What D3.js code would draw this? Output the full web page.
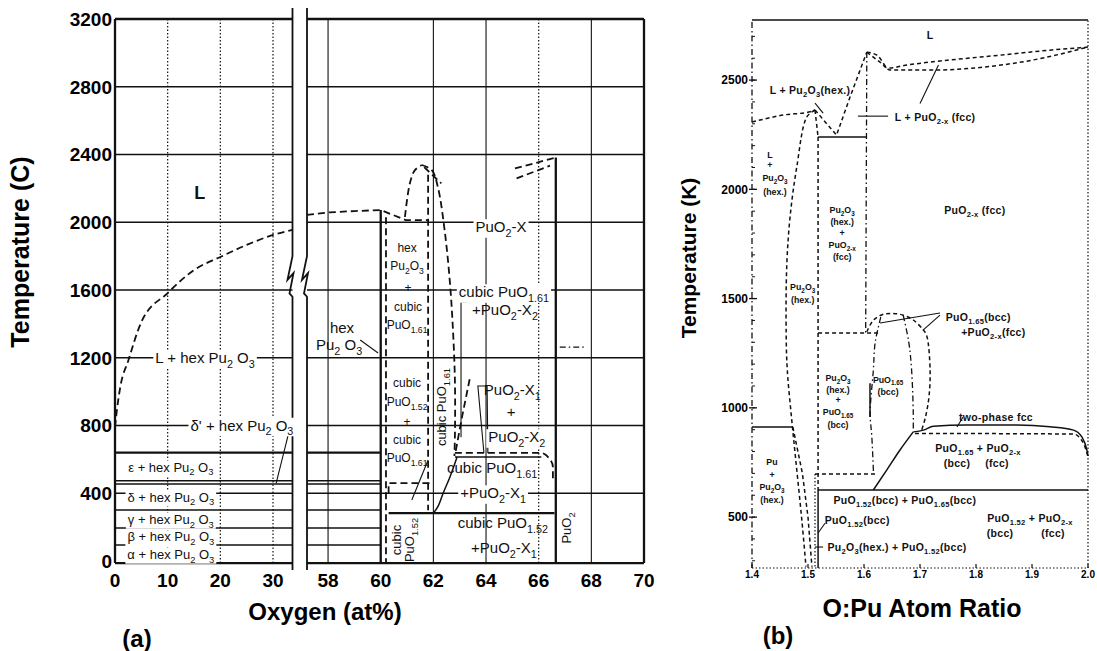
<!DOCTYPE html>
<html>
<head>
<meta charset="utf-8">
<script src="https://cdn.jsdelivr.net/npm/d3@7"></script>
<style>
  body { margin: 0; background: #fff; }
  svg { display: block; }
</style>
</head>
<body>
<div id="chart"></div>
<script>
// ---------- panel (a): temperature (C) vs oxygen (at%) ----------
const tempTicksA = [0, 400, 800, 1200, 1600, 2000, 2400, 2800, 3200];
const oxyTicksA = [0, 10, 20, 30, 58, 60, 62, 64, 66, 68, 70];
const gridSolidA = [58, 62, 64, 68];
const gridDottedA = [10, 20, 30, 66];
const puLinesA = [640, 474, 455, 301, 195, 95];

const liquidusLeftA = [[0,790],[0.4,900],[1,1027],[2.5,1181],[5,1411],[10,1582],[15,1718],[20,1795],[25,1866],[30,1925],[33.7,1955]];
const liquidusRightA = [[57.2,2043],[58,2058],[59,2066],[60,2072],[60.95,2013],[61.8,2013]];
const domeLeftA = [[60.92,2031],[61.11,2232],[61.3,2308],[61.56,2338]];
const domeRightA = [[61.56,2338],[61.94,2308],[62.17,2208],[62.44,1937],[62.63,1641],[62.75,1346],[62.82,1051],[62.82,756],[62.8,620]];
const domeTickA = [[61.65,2325],[62.3,2230]];
const hexEdgeA = [[60,2072],[60,-12]];
const hexEdge2A = [[60.2,2030],[60.2,-12]];
const pu161EdgeA = [[61.8,2280],[61.8,300]];
const line460A = [[60.3,400],[60.3,460],[61.95,460]];
const line283A = [[60.3,283],[66.6,283]];
const pu161LowA = [[62.0,283],[62.2,330],[62.37,400],[62.63,496],[62.9,614]];
const pu161MidA = [[62.85,650],[63.1,860],[63.4,1090]];
const bracketA = [[63.25,1530],[63.05,1530],[63.05,730]];
const gapA = [[63.92,638],[63.69,1033],[64.04,1033],[64.07,638]];
const line638A = [[62.82,638],[66.13,638],[66.35,614],[66.54,555],[66.54,478]];
const line614A = [[62.82,614],[66.1,614]];
const puo2A = [[66.65,2383],[66.65,-12]];
const puo2MeltA = [[[65.1,2318],[66.68,2383]], [[65.16,2259],[66.43,2334]]];
const markA = [[66.8,1263],[67.8,1263]];
const leadersA = [[[33.2,785],[30.6,460]], [[59.22,1305],[59.9,1228]], [[61.8,596],[61.18,360]]];

const labelsA = [
  {text: "hex", x: 58.53, T: 1376},
  {text: "Pu_{2} O_{3}", x: 58.42, T: 1275},
  {text: "+PuO_{2}-X_{2}", x: 64.72, T: 1482},
  {text: "PuO_{2}-X_{1}", x: 65.0, T: 1010},
  {text: "+", x: 64.95, T: 880},
  {text: "cubic  PuO_{1.61}", x: 64.23, T: 549},
  {text: "cubic  PuO_{1.52}", x: 64.64, T: 224},
  {text: "+PuO_{2}-X_{1}", x: 64.68, T: 77}
];
const labelsOnLineA = [
  {text: "L + hex  Pu_{2} O_{3}", x: 17.1, T: 1200},
  {text: "δ' + hex Pu_{2} O_{3}", x: 24.1, T: 800},
  {text: "PuO_{2}-X", x: 64.57, T: 1972},
  {text: "cubic  PuO_{1.61}", x: 64.68, T: 1588},
  {text: "PuO_{2}-X_{2}", x: 65.17, T: 732},
  {text: "+PuO_{2}-X_{1}", x: 64.27, T: 401}
];
const labelsStripA = [
  {text: "ε + hex  Pu_{2} O_{3}", x: 10.6, T: 555},
  {text: "δ + hex  Pu_{2} O_{3}", x: 10.6, T: 378},
  {text: "γ + hex  Pu_{2} O_{3}", x: 10.6, T: 246},
  {text: "β + hex  Pu_{2} O_{3}", x: 10.6, T: 143},
  {text: "α + hex  Pu_{2} O_{3}", x: 10.6, T: 40}
];
const labelsNarrowA = [
  {text: "hex", x: 61.0, T: 1848}, {text: "Pu_{2}O_{3}", x: 61.0, T: 1742},
  {text: "+", x: 61.04, T: 1612}, {text: "cubic", x: 61.04, T: 1500},
  {text: "PuO_{1.61}", x: 61.0, T: 1393},
  {text: "cubic", x: 61.0, T: 1051}, {text: "PuO_{1.52}", x: 61.0, T: 939},
  {text: "+", x: 61.0, T: 821}, {text: "cubic", x: 61.0, T: 714},
  {text: "PuO_{1.61}", x: 61.0, T: 608}
];
const labelsRotA = [
  {text: "cubic  PuO_{1.61}", x: 62.3, T: 909},
  {text: "cubic", x: 60.6, T: 124},
  {text: "PuO_{1.52}", x: 61.1, T: 124},
  {text: "PuO_{2}", x: 67.07, T: 195}
];
const bigLabelA = [{text: "L", x: 16.1, T: 2173}];

// ---------- panel (b): temperature (K) vs O:Pu ratio ----------
const tempTicksB = [500, 1000, 1500, 2000, 2500];
const tempMinorB = d3.range(300, 2800, 100);
const ratioTicksB = [1.4, 1.5, 1.6, 1.7, 1.8, 1.9, 2.0];

const liqLeftB = [[1.4,2308],[1.456,2340],[1.504,2355],[1.5125,2363]];
const liqVB = [[1.5125,2363],[1.551,2248],[1.575,2422],[1.605,2628]];
const solPu2o3B = [[1.5125,2363],[1.518,2239]];
const liqUpperB = [[1.605,2628],[1.6286,2582],[1.6429,2555],[1.6768,2569],[1.7536,2592],[1.8429,2614],[1.9321,2637],[2.0,2651]];
const liqLowerB = [[1.605,2628],[1.6232,2614],[1.6464,2546],[1.7232,2546],[1.8125,2559],[1.9018,2592],[2.0,2651]];
const pu2o3LeftB = [[1.5125,2363],[1.498,2332],[1.48,2103],[1.468,1874],[1.462,1646],[1.461,1342],[1.463,1173],[1.471,944],[1.48,715],[1.489,486],[1.4964,273]];
const pu2o3Left2B = [[1.473,912],[1.49,700],[1.5,500],[1.507,273]];
const edge1518DashB = [[1.518,2239],[1.518,624]];
const edge1518SolidB = [[1.518,624],[1.518,267]];
const edge1512B = [[1.5125,697],[1.5125,267]];
const line2239B = [[1.518,2239],[1.605,2239]];
const edge1603B = [[1.605,2628],[1.603,1342]];
const line1342B = [[1.518,1342],[1.63,1342]];
const line697B = [[1.5125,697],[1.62,697]];
const line912B = [[1.4,912],[1.473,912]];
const line624B = [[1.518,624],[2.0,624]];
const domeB = [[1.605,1348],[1.617,1402],[1.6345,1428],[1.652,1432],[1.67,1424],[1.688,1402],[1.706,1356],[1.712,1330],[1.718,1173],[1.716,1050],[1.71,960],[1.703,898]];
const domeLeftLegB = [[1.63,1415],[1.62,1300],[1.6167,1173],[1.611,975],[1.614,867],[1.617,700]];
const domeMidLegB = [[1.67,1424],[1.68,1300],[1.685,1173],[1.688,975],[1.688,898]];
const markB = [[1.6107,1113],[1.6107,958]];
const riseB = [[1.6167,624],[1.6405,715],[1.6643,807],[1.688,890]];
const fccTopB = [[1.688,890],[1.706,898],[1.724,916],[1.783,921],[1.873,921],[1.932,913],[1.974,898],[1.989,867],[1.998,807],[2.0,780]];
const fccLowB = [[1.691,883],[1.974,880],[1.992,837],[2.0,776]];
const leadersB = [
  [[1.7357,1434],[1.6286,1388]], [[1.7357,1424],[1.7054,1356]],
  [[1.766,912],[1.777,958]], [[1.5304,472],[1.518,427]],
  [[1.5125,363],[1.527,363]], [[1.5125,2395],[1.527,2349]],
  [[1.589,2335],[1.643,2335]], [[1.70,2393],[1.733,2569]]
];
const labelsB = [
  {text: "L", x: 1.718, T: 2706},
  {text: "L + Pu_{2}O_{3}(hex.)", x: 1.5036, T: 2454},
  {text: "L + PuO_{2-x} (fcc)", x: 1.727, T: 2331},
  {text: "PuO_{2-x} (fcc)", x: 1.798, T: 1905},
  {text: "PuO_{1.65}(bcc)", x: 1.804, T: 1415},
  {text: "+PuO_{2-x}(fcc)", x: 1.831, T: 1347},
  {text: "two-phase fcc", x: 1.8357, T: 958},
  {text: "PuO_{1.65}  + PuO_{2-x}", x: 1.8036, T: 815},
  {text: "(bcc)", x: 1.766, T: 745}, {text: "(fcc)", x: 1.8375, T: 745},
  {text: "PuO_{1.52}(bcc) + PuO_{1.65}(bcc)", x: 1.673, T: 578},
  {text: "PuO_{1.52}(bcc)", x: 1.588, T: 486},
  {text: "Pu_{2}O_{3}(hex.) + PuO_{1.52}(bcc)", x: 1.659, T: 363},
  {text: "PuO_{1.52} + PuO_{2-x}", x: 1.8964, T: 494},
  {text: "(bcc)", x: 1.843, T: 424}, {text: "(fcc)", x: 1.9375, T: 424}
];
const labelsStackB = [
  {text: "L", x: 1.432, T: 2157}, {text: "+", x: 1.432, T: 2111},
  {text: "Pu_{2}O_{3}", x: 1.441, T: 2051}, {text: "(hex.)", x: 1.441, T: 1987},
  {text: "Pu_{2}O_{3}", x: 1.561, T: 1905}, {text: "(hex.)", x: 1.561, T: 1850},
  {text: "+", x: 1.561, T: 1800}, {text: "PuO_{2-x}", x: 1.561, T: 1745},
  {text: "(fcc)", x: 1.561, T: 1690},
  {text: "Pu_{2}O_{3}", x: 1.4905, T: 1552}, {text: "(hex.)", x: 1.4905, T: 1496},
  {text: "Pu_{2}O_{3}", x: 1.5536, T: 1135}, {text: "(hex.)", x: 1.5536, T: 1080},
  {text: "+", x: 1.5536, T: 1035}, {text: "PuO_{1.65}", x: 1.5536, T: 980},
  {text: "(bcc)", x: 1.5536, T: 920},
  {text: "PuO_{1.65}", x: 1.643, T: 1130}, {text: "(bcc)", x: 1.643, T: 1072},
  {text: "Pu", x: 1.4357, T: 752}, {text: "+", x: 1.4357, T: 695},
  {text: "Pu_{2}O_{3}", x: 1.4357, T: 638}, {text: "(hex.)", x: 1.4357, T: 578}
];

// ---------- setup ----------
const width = 1097, height = 651;
const boldFont = "'Liberation Sans', Arial, sans-serif";
const letterFont = "'Liberation Sans', Arial, sans-serif";
const ink = "#111";

const svg = d3.select("#chart").append("svg")
    .attr("width", width)
    .attr("height", height);
svg.append("rect").attr("width", width).attr("height", height).attr("fill", "#fff");

const xA = d3.scaleLinear().domain([0, 33.7, 57.2, 70]).range([115, 292.5, 307, 644]);
const yA = d3.scaleLinear().domain([0, 3200]).range([561, 19]);
const botA = -12;

const xB = d3.scaleLinear().domain([1.4, 2.0]).range([752, 1088]);
const yB = d3.scaleLinear().domain([267, 2775]).range([568, 20]);

const styles = {
  solid:   {w: 1.5, dash: null},
  thick:   {w: 2.3, dash: null},
  thin:    {w: 1.1, dash: null},
  dash:    {w: 1.8, dash: "7,4"},
  dashS:   {w: 1.5, dash: "4,3"},
  dashdot: {w: 1.3, dash: "6,3,1.5,3"},
  dot:     {w: 1.2, dash: "1.5,2"}
};

function drawLine(g, pts, xs, ys, style, curve) {
  const s = styles[style];
  g.append("path")
    .attr("d", d3.line().x(d => xs(d[0])).y(d => ys(d[1])).curve(curve || d3.curveLinear)(pts))
    .attr("fill", "none")
    .attr("stroke", ink)
    .attr("stroke-width", s.w)
    .attr("stroke-dasharray", s.dash)
    .attr("stroke-linecap", "butt");
}

// text with _{...} subscripts
function drawLabel(g, d, xs, ys, o) {
  const size = o.size;
  const gg = g.append("g")
    .attr("transform", `translate(${xs(d.x)},${ys(d.T)})` + (o.rot ? " rotate(-90)" : ""));
  const bg = gg.append("rect").attr("fill", "#fff");
  const t = gg.append("text")
    .attr("text-anchor", "middle")
    .attr("y", size * 0.35)
    .attr("font-size", size)
    .attr("font-family", o.font)
    .attr("font-weight", o.weight || "normal")
    .attr("letter-spacing", o.spacing || 0)
    .attr("fill", ink);
  d.text.split(/(_\{[^}]*\})/).filter(p => p).reduce((low, p) => {
    const m = p.match(/^_\{(.*)\}$/);
    if (m) {
      t.append("tspan").attr("dy", low ? 0 : size * 0.3).attr("font-size", size * 0.72).text(m[1]);
      return true;
    }
    t.append("tspan").attr("dy", low ? -size * 0.3 : 0).text(p);
    return false;
  }, false);
  if (o.bg) {
    const b = t.node().getBBox();
    bg.attr("x", b.x - 2).attr("y", b.y + 1).attr("width", b.width + 4).attr("height", b.height - 2);
  } else {
    bg.remove();
  }
}

// ================= panel (a) =================
const gA = svg.append("g");
const gridA = gA.append("g");

// horizontal grid, split by the axis break
tempTicksA.slice(1, -1).forEach(t => {
  drawLine(gridA, [[0, t], [33.7, t]], xA, yA, "solid");
  drawLine(gridA, [[57.2, t], [70, t]], xA, yA, "solid");
});
gridDottedA.forEach(v => drawLine(gridA, [[v, botA], [v, 3200]], xA, yA, "dot"));
gridSolidA.forEach(v => drawLine(gridA, [[v, botA], [v, 3200]], xA, yA, "thin"));

// frame
[[0, 33.7], [57.2, 70]].forEach(([a, b]) => {
  drawLine(gridA, [[a, 3200], [b, 3200]], xA, yA, "thick");
  drawLine(gridA, [[a, botA], [b, botA]], xA, yA, "thick");
});
drawLine(gridA, [[0, botA], [0, 3200]], xA, yA, "thick");
drawLine(gridA, [[70, botA], [70, 3200]], xA, yA, "thick");

// broken-axis edges with zigzag
[33.7, 57.2].forEach(v => {
  const x0 = xA(v);
  const pts = [[x0, 8], [x0, yA(1800)], [x0 - 5, yA(1660)], [x0 + 1, yA(1700)], [x0 - 3, yA(1580)], [x0, yA(1560)], [x0, 570]];
  gridA.append("path")
    .attr("d", d3.line()(pts))
    .attr("fill", "none").attr("stroke", ink).attr("stroke-width", 1.8);
});

// Pu allotrope lines
puLinesA.forEach((t, i) => {
  const st = i === 0 ? "thick" : "solid";
  drawLine(gA, [[0, t], [33.7, t]], xA, yA, st);
  drawLine(gA, [[57.2, t], [60, t]], xA, yA, st);
});

// phase boundaries
drawLine(gA, liquidusLeftA, xA, yA, "dash", d3.curveMonotoneX);
drawLine(gA, liquidusRightA, xA, yA, "dash");
drawLine(gA, domeLeftA, xA, yA, "dash", d3.curveCatmullRom);
drawLine(gA, domeRightA, xA, yA, "dash", d3.curveCatmullRom);
drawLine(gA, domeTickA, xA, yA, "dash");
drawLine(gA, hexEdgeA, xA, yA, "thick");
drawLine(gA, hexEdge2A, xA, yA, "dash");
drawLine(gA, pu161EdgeA, xA, yA, "dash");
drawLine(gA, line460A, xA, yA, "dash");
drawLine(gA, line283A, xA, yA, "thick");
drawLine(gA, pu161LowA, xA, yA, "solid", d3.curveMonotoneX);
drawLine(gA, pu161MidA, xA, yA, "dash");
drawLine(gA, bracketA, xA, yA, "thin");
drawLine(gA, gapA, xA, yA, "thin");
drawLine(gA, line638A, xA, yA, "dash", d3.curveMonotoneY);
drawLine(gA, line614A, xA, yA, "solid");
drawLine(gA, puo2A, xA, yA, "thick");
puo2MeltA.forEach(p => drawLine(gA, p, xA, yA, "dash"));
drawLine(gA, markA, xA, yA, "dashdot");
leadersA.forEach(p => drawLine(gA, p, xA, yA, "thin"));

// labels
const labA = gA.append("g");
labelsA.forEach(d => drawLabel(labA, d, xA, yA, {size: 15, font: letterFont}));
labelsOnLineA.forEach(d => drawLabel(labA, d, xA, yA, {size: 15, font: letterFont, bg: true}));
labelsStripA.forEach(d => drawLabel(labA, d, xA, yA, {size: 13, font: letterFont, bg: true}));
labelsNarrowA.forEach(d => drawLabel(labA, d, xA, yA, {size: 12, font: letterFont}));
labelsRotA.forEach(d => drawLabel(labA, d, xA, yA, {size: 13, font: letterFont, rot: true}));
bigLabelA.forEach(d => drawLabel(labA, d, xA, yA, {size: 18, font: letterFont, weight: "bold"}));

// tick labels
gA.append("g").selectAll("text")
  .data(tempTicksA).enter().append("text")
    .attr("x", 112)
    .attr("y", d => yA(d))
    .attr("dy", "0.36em")
    .attr("text-anchor", "end")
    .style("font-family", boldFont)
    .style("font-weight", "bold")
    .style("font-size", "19px")
    .text(d => d);
gA.append("g").selectAll("text")
  .data(oxyTicksA).enter().append("text")
    .attr("x", d => xA(d))
    .attr("y", 587)
    .attr("text-anchor", "middle")
    .style("font-family", boldFont)
    .style("font-weight", "bold")
    .style("font-size", "19px")
    .text(d => d);

// axis titles
gA.append("text")
  .attr("transform", "translate(29,252) rotate(-90)")
  .attr("text-anchor", "middle")
  .style("font-family", boldFont).style("font-weight", "bold").style("font-size", "25px")
  .text("Temperature (C)");
gA.append("text")
  .attr("x", 325).attr("y", 620)
  .attr("text-anchor", "middle")
  .style("font-family", boldFont).style("font-weight", "bold").style("font-size", "24px")
  .text("Oxygen (at%)");
gA.append("text")
  .attr("x", 137).attr("y", 647)
  .attr("text-anchor", "middle")
  .style("font-family", boldFont).style("font-weight", "bold").style("font-size", "24px")
  .text("(a)");

// ================= panel (b) =================
const gB = svg.append("g");

// frame
drawLine(gB, [[1.4, 2775], [2.0, 2775]], xB, yB, "solid");
drawLine(gB, [[1.4, 267], [1.4, 2775]], xB, yB, "dashdot");
drawLine(gB, [[2.0, 267], [2.0, 2775]], xB, yB, "dot");
drawLine(gB, [[1.4, 267], [2.0, 267]], xB, yB, "dot");

// ticks
gB.append("g").selectAll("line")
  .data(tempTicksB).enter().append("line")
    .attr("x1", xB(1.4) - 3).attr("x2", xB(1.4) + 5)
    .attr("y1", d => yB(d)).attr("y2", d => yB(d))
    .attr("stroke", ink).attr("stroke-width", 1.3);
gB.append("g").selectAll("line")
  .data(tempMinorB).enter().append("line")
    .attr("x1", xB(1.4)).attr("x2", xB(1.4) + 3)
    .attr("y1", d => yB(d)).attr("y2", d => yB(d))
    .attr("stroke", ink).attr("stroke-width", 1);
gB.append("g").selectAll("line")
  .data(ratioTicksB).enter().append("line")
    .attr("x1", d => xB(d)).attr("x2", d => xB(d))
    .attr("y1", yB(267)).attr("y2", yB(267) - 4)
    .attr("stroke", ink).attr("stroke-width", 1.2);

gB.append("g").selectAll("text")
  .data(tempTicksB).enter().append("text")
    .attr("x", xB(1.4) - 4)
    .attr("y", d => yB(d))
    .attr("dy", "0.36em")
    .attr("text-anchor", "end")
    .style("font-family", boldFont).style("font-weight", "bold").style("font-size", "12px")
    .text(d => d);
gB.append("g").selectAll("text")
  .data(ratioTicksB).enter().append("text")
    .attr("x", d => xB(d))
    .attr("y", 578)
    .attr("text-anchor", "middle")
    .style("font-family", boldFont).style("font-weight", "bold").style("font-size", "10px")
    .text(d => d.toFixed(1));

// phase boundaries
drawLine(gB, liqLeftB, xB, yB, "dashS", d3.curveMonotoneX);
drawLine(gB, liqVB, xB, yB, "dashS");
drawLine(gB, solPu2o3B, xB, yB, "dashS");
drawLine(gB, liqUpperB, xB, yB, "dashS", d3.curveMonotoneX);
drawLine(gB, liqLowerB, xB, yB, "dashS", d3.curveMonotoneX);
drawLine(gB, pu2o3LeftB, xB, yB, "dashS", d3.curveCatmullRom);
drawLine(gB, pu2o3Left2B, xB, yB, "dashS");
drawLine(gB, edge1518DashB, xB, yB, "dashS");
drawLine(gB, edge1518SolidB, xB, yB, "solid");
drawLine(gB, edge1512B, xB, yB, "dot");
drawLine(gB, line2239B, xB, yB, "solid");
drawLine(gB, edge1603B, xB, yB, "dashdot");
drawLine(gB, line1342B, xB, yB, "dashS");
drawLine(gB, line697B, xB, yB, "dashS");
drawLine(gB, line912B, xB, yB, "solid");
drawLine(gB, line624B, xB, yB, "solid");
drawLine(gB, domeB, xB, yB, "dashS", d3.curveCatmullRom);
drawLine(gB, domeLeftLegB, xB, yB, "dashdot", d3.curveCatmullRom);
drawLine(gB, domeMidLegB, xB, yB, "dashdot", d3.curveCatmullRom);
drawLine(gB, markB, xB, yB, "solid");
drawLine(gB, riseB, xB, yB, "solid", d3.curveMonotoneX);
drawLine(gB, fccTopB, xB, yB, "solid", d3.curveMonotoneX);
drawLine(gB, fccLowB, xB, yB, "dashS", d3.curveMonotoneX);
leadersB.forEach(p => drawLine(gB, p, xB, yB, "thin"));

const labB = gB.append("g");
labelsB.forEach(d => drawLabel(labB, d, xB, yB, {size: 10.5, font: boldFont, weight: "bold", spacing: 0.3}));
labelsStackB.forEach(d => drawLabel(labB, d, xB, yB, {size: 8.8, font: boldFont, weight: "bold"}));

// axis titles
gB.append("text")
  .attr("transform", "translate(696,258) rotate(-90)")
  .attr("text-anchor", "middle")
  .style("font-family", boldFont).style("font-weight", "bold").style("font-size", "21px")
  .text("Temperature (K)");
gB.append("text")
  .attr("x", 922).attr("y", 617)
  .attr("text-anchor", "middle")
  .style("font-family", boldFont).style("font-weight", "bold").style("font-size", "25px")
  .text("O:Pu Atom Ratio");
gB.append("text")
  .attr("x", 778).attr("y", 644)
  .attr("text-anchor", "middle")
  .style("font-family", boldFont).style("font-weight", "bold").style("font-size", "24px")
  .text("(b)");
</script>
</body>
</html>
